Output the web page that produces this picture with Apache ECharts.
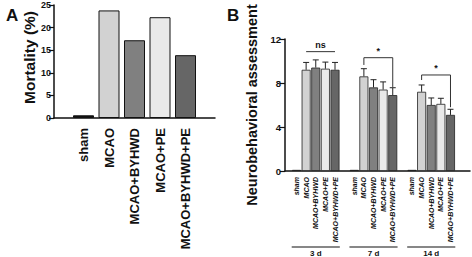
<!DOCTYPE html>
<html lang="en">
<head>
<meta charset="utf-8">
<title>Mortality and neurobehavioral assessment</title>
<script src="https://cdn.jsdelivr.net/npm/echarts@6/dist/echarts.min.js"></script>
<style>
  html, body { margin: 0; padding: 0; background: #fff; }
  #main { width: 472px; height: 257px; }
</style>
</head>
<body>
<div id="main"></div>
<script>
// ---- panel A: mortality ----
var groupsA = ['sham', 'MCAO', 'MCAO+BYHWD', 'MCAO+PE', 'MCAO+BYHWD+PE'];
var mortality = [0.6, 23.8, 17.2, 22.3, 13.9];

// ---- panel B: neurobehavioral score ----
var days = ['3 d', '7 d', '14 d'];
var treatments = ['sham', 'MCAO', 'MCAO+BYHWD', 'MCAO+PE', 'MCAO+BYHWD+PE'];
var score3d = [0.1, 9.2, 9.4, 9.3, 9.2];
var score7d = [0.1, 8.6, 7.6, 7.4, 6.9];
var score14d = [0.1, 7.2, 6.0, 6.1, 5.1];
var err3d = [0, 0.67, 0.7, 0.6, 0.67];
var err7d = [0, 0.7, 0.7, 0.7, 0.67];
var err14d = [0, 0.62, 0.64, 0.51, 0.51];
var sigLabels = ['ns', '*', '*'];
// bracket heights: top, left end, right end
var sigTop = [10.85, 10.3, 8.73];
var sigLeft = [10.85, 9.64, 8.27];
var sigRight = [10.85, 7.64, 5.8];

var colors = ['#111111', '#d2d2d2', '#808080', '#e9e9e9', '#666666'];
var font = 'Liberation Sans, Arial, sans-serif';

// slots for panel B: 5 bars per day, one empty slot between days
var scoresB = [score3d, score7d, score14d];
var errsB = [err3d, err7d, err14d];
var slotNames = [], barData = [], errData = [], groupSpan = [], sigData = [];
days.forEach(function (d, g) {
    var start = slotNames.length;
    treatments.forEach(function (t, i) {
        var slot = slotNames.length;
        slotNames.push(d + ':' + t);
        barData.push({ value: scoresB[g][i], itemStyle: { color: colors[i] } });
        if (errsB[g][i] > 0) errData.push([slot, scoresB[g][i], errsB[g][i]]);
    });
    groupSpan.push([start, slotNames.length - 1]);
    sigData.push([start + 1, start + 4, sigTop[g], sigLeft[g], sigRight[g]]);
    if (g < days.length - 1) {
        slotNames.push('gap' + g);
        barData.push('-');
    }
});

var myChart = echarts.init(document.getElementById('main'), null, { renderer: 'svg' });

var labelStyle = { color: '#111', fontWeight: 'bold', fontFamily: font };

var option = {
    animation: false,
    textStyle: { fontFamily: font },
    title: [
        { text: 'A', left: 1, top: 2, textStyle: { fontSize: 17, fontWeight: 'bold', color: '#111' } },
        { text: 'B', left: 222, top: 2, textStyle: { fontSize: 17, fontWeight: 'bold', color: '#111' } }
    ],
    grid: [
        { left: 54, right: 257, top: 5, bottom: 139 },      // A axes
        { left: 70.75, right: 273.75, top: 5, bottom: 139 }, // A bars
        { left: 285, right: 2, top: 39, bottom: 86 },        // B axes
        { left: 291.7, right: 16.7, top: 39, bottom: 86 }    // B bars
    ],
    xAxis: [
        { gridIndex: 0, type: 'value', min: 0, max: 1, axisLine: { show: true, lineStyle: { color: '#111', width: 1.5 } },
          axisTick: { show: false }, axisLabel: { show: false }, splitLine: { show: false } },
        { gridIndex: 1, type: 'category', data: groupsA, axisLine: { show: false }, axisTick: { show: false },
          axisLabel: Object.assign({ interval: 0, rotate: 90, fontSize: 13, margin: 10 }, labelStyle) },
        { gridIndex: 2, type: 'value', min: 0, max: 1, axisLine: { show: true, lineStyle: { color: '#111', width: 1.5 } },
          axisTick: { show: false }, axisLabel: { show: false }, splitLine: { show: false } },
        { gridIndex: 3, type: 'category', data: slotNames, axisLine: { show: false }, axisTick: { show: false },
          axisLabel: Object.assign({ interval: 0, rotate: 90, fontSize: 7, margin: 6, fontStyle: 'italic',
            formatter: function (v) { return v.indexOf(':') < 0 ? '' : v.split(':')[1]; } }, labelStyle) }
    ],
    yAxis: [
        { gridIndex: 0, type: 'value', min: 0, max: 25, interval: 5,
          name: 'Mortality (%)', nameLocation: 'middle', nameGap: 15,
          nameTextStyle: { fontSize: 15.5, fontWeight: 'bold', color: '#111', fontFamily: font, padding: [0, 0, 0, 8] },
          axisLine: { show: true, lineStyle: { color: '#111', width: 1.5 } },
          axisTick: { show: true, length: 5, lineStyle: { color: '#111', width: 1.2 } },
          axisLabel: Object.assign({ fontSize: 9, margin: 3 }, labelStyle), splitLine: { show: false } },
        { gridIndex: 1, type: 'value', min: 0, max: 25, show: false },
        { gridIndex: 2, type: 'value', min: 0, max: 12, interval: 4,
          name: 'Neurobehavioral assessment', nameLocation: 'middle', nameGap: 26,
          nameTextStyle: { fontSize: 14.5, fontWeight: 'bold', color: '#111', fontFamily: font },
          axisLine: { show: true, lineStyle: { color: '#111', width: 1.5 } },
          axisTick: { show: true, length: 5, lineStyle: { color: '#111', width: 1.2 } },
          axisLabel: Object.assign({ fontSize: 9.5, margin: 4 }, labelStyle), splitLine: { show: false } },
        { gridIndex: 3, type: 'value', min: 0, max: 12, show: false }
    ],
    series: [
        {
            type: 'bar', xAxisIndex: 1, yAxisIndex: 1, barWidth: 21,
            data: mortality.map(function (v, i) { return { value: v, itemStyle: { color: colors[i] } }; }),
            itemStyle: { borderColor: '#111', borderWidth: 1 }
        },
        {
            type: 'bar', xAxisIndex: 3, yAxisIndex: 3, barWidth: 9,
            data: barData,
            itemStyle: { borderColor: '#222', borderWidth: 0.8 }
        },
        {
            // error bars (upper half only)
            type: 'custom', xAxisIndex: 3, yAxisIndex: 3, data: errData, z: 3,
            renderItem: function (params, api) {
                var x = api.value(0), m = api.value(1), e = api.value(2);
                var p0 = api.coord([x, m]), p1 = api.coord([x, m + e]);
                var st = { stroke: '#222', lineWidth: 1 };
                return { type: 'group', children: [
                    { type: 'line', shape: { x1: p0[0], y1: p0[1], x2: p1[0], y2: p1[1] }, style: st },
                    { type: 'line', shape: { x1: p1[0] - 3, y1: p1[1], x2: p1[0] + 3, y2: p1[1] }, style: st }
                ] };
            }
        },
        {
            // significance brackets
            type: 'custom', xAxisIndex: 3, yAxisIndex: 3, data: sigData, z: 3,
            renderItem: function (params, api) {
                var a = api.coord([api.value(0), api.value(2)]);
                var b = api.coord([api.value(1), api.value(2)]);
                var l = api.coord([api.value(0), api.value(3)]);
                var r = api.coord([api.value(1), api.value(4)]);
                var st = { stroke: '#333', lineWidth: 1 };
                return { type: 'group', children: [
                    { type: 'polyline', shape: { points: [[l[0], l[1]], [a[0], a[1]], [b[0], b[1]], [r[0], r[1]]] }, style: Object.assign({ fill: null }, st) },
                    { type: 'text', style: { text: sigLabels[params.dataIndex], x: (a[0] + b[0]) / 2, y: a[1] - 2,
                        align: 'center', verticalAlign: 'bottom', fontSize: 9, fontWeight: 'bold', fill: '#111', fontFamily: font } }
                ] };
            }
        },
        {
            // day group lines and labels below the axis
            type: 'custom', xAxisIndex: 3, yAxisIndex: 3, data: groupSpan, z: 3,
            renderItem: function (params, api) {
                var a = api.coord([api.value(0), 0]), b = api.coord([api.value(1), 0]);
                var half = api.size([1, 0])[0] / 2;
                var y = a[1] + 76;
                return { type: 'group', children: [
                    { type: 'line', shape: { x1: a[0] - half, y1: y, x2: b[0] + half, y2: y }, style: { stroke: '#111', lineWidth: 1.2 } },
                    { type: 'text', style: { text: days[params.dataIndex], x: (a[0] + b[0]) / 2, y: y + 2,
                        align: 'center', verticalAlign: 'top', fontSize: 8, fontWeight: 'bold', fill: '#111', fontFamily: font } }
                ] };
            }
        }
    ]
};

myChart.setOption(option);
</script>
</body>
</html>
